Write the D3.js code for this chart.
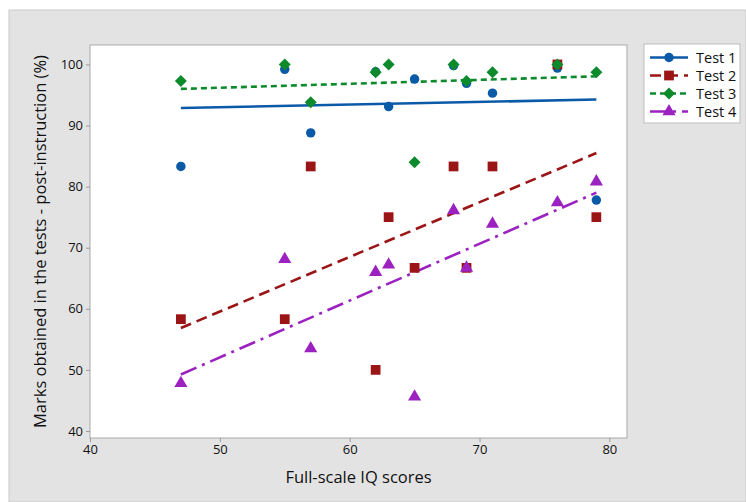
<!DOCTYPE html>
<html>
  <head>
    <title>IQ vs marks</title>
    <script src="https://d3js.org/d3.v7.min.js"></script>
    <style>
      body { margin: 0; background: white; }
      text { font-family: "Open Sans", "Noto Sans", sans-serif; fill: #111; }
      .tick text { font-size: 13px; }
      .title { font-size: 16.5px; }
      .legend text { font-size: 14.5px; }
    </style>
  </head>
  <body>
    <script>
      // full-scale IQ of each student
      let iq = [47, 55, 57, 62, 63, 65, 68, 69, 71, 76, 79];
      // marks post-instruction (%)
      let test1 = [83.3, 99.2, 88.8, 98.8, 93.1, 97.6, 99.8, 96.9, 95.3, 99.4, 77.8];
      let test2 = [58.3, 58.3, 83.3, 50.0, 75.0, 66.7, 83.3, 66.7, 83.3, 100, 75.0];
      let test3 = [97.3, 100, 93.8, 98.7, 100, 84.0, 100, 97.3, 98.7, 100, 98.7];
      let test4 = [47.8, 68.1, 53.5, 66.0, 67.2, 45.6, 76.1, 66.7, 73.9, 77.4, 80.8];
      let seriesNames = ["Test 1", "Test 2", "Test 3", "Test 4"];
      let xTicks = [40, 50, 60, 70, 80];
      let yTicks = [40, 50, 60, 70, 80, 90, 100];

      let width = 746, height = 502;
      let pLeft = 90, pRight = 627, pTop = 45, pBottom = 438;

      let svg = d3.select("body").append("svg")
                  .attr("width", width).attr("height", height);

      // grey panel
      svg.append("rect").attr("x", 9).attr("y", 10)
         .attr("width", width - 9).attr("height", height - 10)
         .attr("fill", "#e3e3e3").attr("stroke", "#c9c9c9");

      let x = d3.scaleLinear().domain([40, 81.36]).range([pLeft, pRight]);
      let y = d3.scaleLinear().domain([38.85, 103.18]).range([pBottom, pTop]);

      svg.append("rect").attr("x", pLeft).attr("y", pTop)
         .attr("width", pRight - pLeft).attr("height", pBottom - pTop)
         .attr("fill", "white").attr("stroke", "#a9a9a9");

      let xAxis = svg.append("g").attr("transform", `translate(0,${pBottom})`)
         .call(d3.axisBottom(x).tickValues(xTicks).tickSize(4).tickPadding(3).tickSizeOuter(0));
      let yAxis = svg.append("g").attr("transform", `translate(${pLeft},0)`)
         .call(d3.axisLeft(y).tickValues(yTicks).tickSize(4).tickPadding(3).tickSizeOuter(0));
      [xAxis, yAxis].forEach(function(a) {
        a.select(".domain").remove();
        a.selectAll("line").attr("stroke", "#9a9a9a");
        a.selectAll("text").attr("fill", "#111");
      });

      svg.append("text").attr("class", "title").attr("x", (pLeft + pRight) / 2).attr("y", 483)
         .attr("text-anchor", "middle").text("Full-scale IQ scores");
      svg.append("text").attr("class", "title")
         .attr("transform", `translate(46,${(pTop + pBottom) / 2}) rotate(-90)`)
         .attr("text-anchor", "middle").text("Marks obtained in the tests - post-instruction (%)");

      // diamond = square turned 45 degrees
      let series = [
        {name: seriesNames[0], values: test1, color: "#0b5aa8", dash: null, symbol: d3.symbolCircle, size: 70, rot: 0},
        {name: seriesNames[1], values: test2, color: "#9b1416", dash: "11,6", symbol: d3.symbolSquare, size: 95, rot: 0},
        {name: seriesNames[2], values: test3, color: "#0c8a2c", dash: "6,4", symbol: d3.symbolSquare, size: 72, rot: 45},
        {name: seriesNames[3], values: test4, color: "#9b22c0", dash: "17,6,3,6", symbol: d3.symbolTriangle, size: 75, rot: 0}
      ];

      function fit(xs, ys) {
        let mx = d3.mean(xs), my = d3.mean(ys);
        let sxy = d3.sum(xs, (v, i) => (v - mx) * (ys[i] - my));
        let sxx = d3.sum(xs, v => (v - mx) * (v - mx));
        let b = sxy / sxx;
        return v => my + b * (v - mx);
      }

      let line = d3.line().x(d => x(d[0])).y(d => y(d[1]));
      let xExt = d3.extent(iq);

      series.forEach(function(s) {
        let f = fit(iq, s.values);
        svg.append("path").datum(xExt.map(v => [v, f(v)]))
           .attr("d", line).attr("fill", "none")
           .attr("stroke", s.color).attr("stroke-width", 2.6)
           .attr("stroke-dasharray", s.dash);
      });
      series.forEach(function(s) {
        svg.append("g").selectAll("path").data(s.values).enter().append("path")
           .attr("d", d3.symbol().type(s.symbol).size(s.size))
           .attr("transform", (d, i) => `translate(${x(iq[i])},${y(d)}) rotate(${s.rot})`)
           .attr("fill", s.color);
      });

      // legend
      let legend = svg.append("g").attr("class", "legend");
      legend.append("rect").attr("x", 644).attr("y", 44).attr("width", 96).attr("height", 79)
            .attr("fill", "white").attr("stroke", "#bdbdbd");
      series.forEach(function(s, i) {
        let ly = 57.5 + i * 18;
        legend.append("line").attr("x1", 650).attr("x2", 688).attr("y1", ly).attr("y2", ly)
              .attr("stroke", s.color).attr("stroke-width", 2.6)
              .attr("stroke-dasharray", s.dash);
        legend.append("path").attr("d", d3.symbol().type(s.symbol).size(s.size))
              .attr("transform", `translate(669,${ly}) rotate(${s.rot})`).attr("fill", s.color);
        legend.append("text").attr("x", 696).attr("y", ly + 5).text(s.name);
      });
    </script>
  </body>
</html>
